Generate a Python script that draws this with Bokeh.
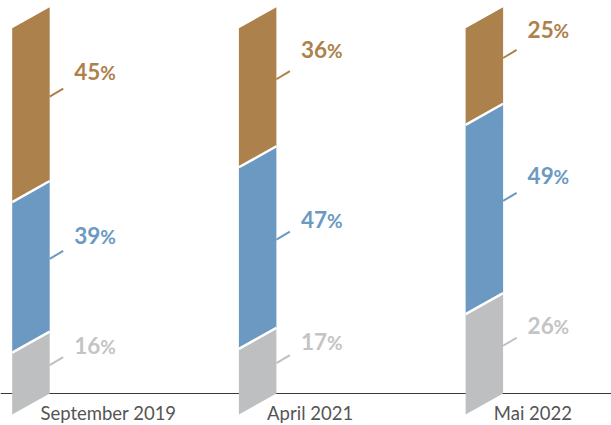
from bokeh.plotting import figure
from bokeh.models import Range1d
from bokeh.core.properties import value
from bokeh.embed import file_html
from bokeh.resources import INLINE

# ---- data ----
categories = ["September 2019", "April 2021", "Mai 2022"]
grey_share = [16, 17, 26]
blue_share = [39, 47, 49]
gold_share = [45, 36, 25]

series_values = [grey_share, blue_share, gold_share]
series_fill = ["#BEBFC1", "#6B99C2", "#AC814B"]
series_text = ["#C4C4C5", "#6B99C2", "#AC814B"]

# ---- layout (pixels): label nudge above the segment middle, per series/category ----
label_nudge = [[-18, -20, -18.5],      # grey labels
               [-21.5, -18.5, -23.5],  # blue labels
               [-23, -27.5, -27]]      # gold labels

PX_PER_PCT = 3.86
BAR_W = 37.5
STEP = 226.7
X0 = 11.7
SLANT = 21 / PX_PER_PCT

p = figure(width=611, height=425,
           x_range=Range1d(0, 611),
           y_range=Range1d(-32 / PX_PER_PCT, 100 + 6.7 / PX_PER_PCT),
           output_backend="svg", toolbar_location=None, min_border=0,
           x_axis_type=None, y_axis_type=None)
p.grid.visible = False
p.outline_line_color = None
p.background_fill_color = "white"
p.border_fill_color = "white"

# baseline
p.segment(x0=[0], y0=[0], x1=[611], y1=[0], line_color="#3a3a3a", line_width=1.2)

for i, cat in enumerate(categories):
    left = X0 + STEP * i
    right = left + BAR_W
    base = 0.0
    for k, (vals, fill, tcol) in enumerate(zip(series_values, series_fill, series_text)):
        v = vals[i]
        top = base + v
        p.patch(x=[left, right, right, left],
                y=[base - SLANT, base, top, top - SLANT],
                fill_color=fill, line_color=None)
        mid = (base + top) / 2
        ly = mid - 2.5 / PX_PER_PCT
        # leader line
        p.segment(x0=[right], y0=[ly], x1=[right + 13.5], y1=[ly + 8 / PX_PER_PCT],
                  line_color=fill, line_width=2)
        ty = mid - (label_nudge[k][i] + 0.6) / PX_PER_PCT
        p.text(x=[right + 24.5], y=[ty], text=[str(v)],
               text_font=value("Lato"), text_font_style="bold",
               text_font_size="22.5px", text_color=tcol,
               text_align="left", text_baseline="middle")
        p.text(x=[right + 24.5 + 26], y=[ty - 0.25], text=["%"],
               text_font=value("Lato"), text_font_style="bold",
               text_font_size="19px", text_color=tcol,
               text_align="left", text_baseline="middle")
        base = top
    # white separators between segments
    b = 0.0
    for vals in series_values[:-1]:
        b += vals[i]
        p.segment(x0=[left], y0=[b - SLANT], x1=[right], y1=[b],
                  line_color="white", line_width=2.5)
    # category label
    p.text(x=[right - 9.3], y=[-20 / PX_PER_PCT], text=[cat],
           text_font=value("Lato"), text_font_size="18.5px",
           text_color="#555555", text_align="left", text_baseline="middle")

open("out.html", "w").write(file_html(p, INLINE))
